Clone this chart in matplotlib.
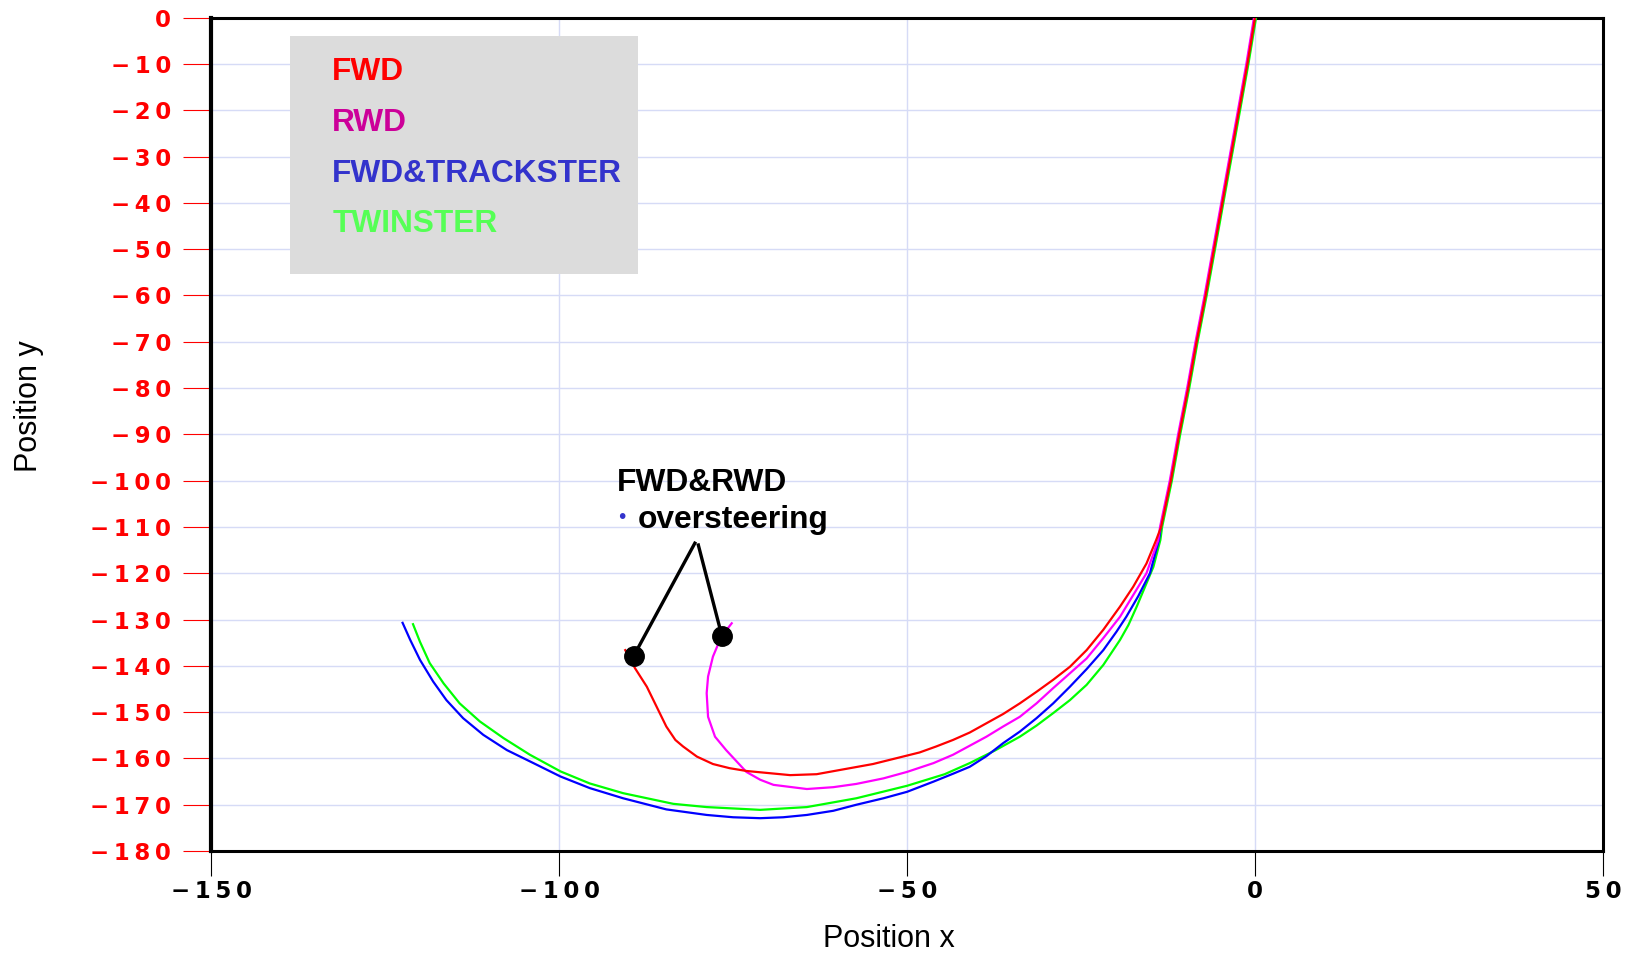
import numpy as np
import matplotlib
matplotlib.use('Agg')
import matplotlib.pyplot as plt
from matplotlib.patches import Rectangle
from matplotlib.ticker import FuncFormatter, MultipleLocator

# common straight part (all four cars)
sx = [0, -1.1, -2.3, -3.5, -4.7, -5.9, -7.1, -8.4, -9.6, -10.9, -12.1, -12.8, -13.5]
sy = [0, -10, -20, -30, -40, -50, -60, -70, -80, -90, -100, -105, -110]

fwd_x = [-14.2, -15.6, -17.5, -19.4, -21.8, -24.2, -26.6, -29.0, -31.4, -33.8, -36.2, -38.6,
         -41.0, -43.4, -45.8, -48.2, -54.9, -59.7, -63.0, -66.8, -73.1, -75.5, -77.9, -80.2,
         -82.2, -83.3, -84.6, -86.0, -87.4, -89.1, -90.5]
fwd_y = [-112.8, -117.9, -122.9, -127.2, -132.2, -136.6, -140.2, -143.0, -145.6, -148.1, -150.4, -152.4,
         -154.4, -156.0, -157.4, -158.7, -161.2, -162.5, -163.4, -163.6, -162.7, -162.1, -161.2, -159.6,
         -157.4, -156.0, -153.1, -148.8, -144.5, -140.5, -136.6]

rwd_x = [-13.9, -15.6, -17.5, -19.4, -21.8, -24.2, -26.6, -29.0, -31.4, -33.8, -36.2, -38.6,
         -43.4, -46.2, -50.0, -53.4, -57.3, -60.6, -64.4, -69.2, -71.1, -73.1, -76.0, -77.6,
         -78.6, -78.8, -78.6, -77.9, -76.7, -75.2]
rwd_y = [-112.8, -120.0, -124.7, -129.4, -134.0, -138.4, -141.6, -144.8, -148.1, -151.0, -153.1, -155.3,
         -159.2, -161.0, -162.9, -164.3, -165.5, -166.2, -166.6, -165.7, -164.6, -162.9, -158.2, -155.3,
         -151.0, -145.9, -142.3, -138.0, -133.7, -130.8]

trk_x = [-13.8, -15.1, -16.8, -18.5, -19.9, -21.8, -24.2, -26.6, -29.0, -31.4, -33.8, -36.2, -38.6,
         -41.0, -43.4, -46.2, -50.0, -53.4, -57.3, -60.6, -64.4, -67.8, -71.1, -75.0, -78.8, -84.6,
         -90.8, -95.6, -99.8, -103.7, -107.5, -110.9, -113.8, -116.2, -118.1, -120.0, -121.4, -122.5]
trk_y = [-112.8, -120.0, -125.0, -129.4, -132.6, -136.6, -140.7, -144.5, -148.1, -151.3, -154.2, -156.7, -159.5,
         -161.8, -163.3, -165.0, -167.2, -168.6, -170.0, -171.3, -172.2, -172.7, -172.9, -172.7, -172.2, -171.0,
         -168.6, -166.4, -163.9, -161.0, -158.2, -154.9, -151.3, -147.4, -143.4, -138.7, -134.4, -130.7]

twin_x = [-13.6, -14.6, -15.8, -17.0, -18.2, -19.4, -21.8, -24.2, -26.6, -29.0, -31.4, -33.8, -37.4,
          -41.0, -44.6, -50.0, -57.3, -64.4, -71.1, -78.8, -83.6, -90.8, -95.6, -99.8, -104.2, -108.0,
          -111.4, -114.3, -116.6, -118.6, -120.0, -121.0]
twin_y = [-112.8, -118.6, -122.9, -127.2, -131.2, -134.4, -139.8, -144.1, -147.4, -150.2, -152.9, -155.3, -158.3,
          -161.0, -163.4, -165.9, -168.6, -170.5, -171.1, -170.5, -169.8, -167.5, -165.4, -162.8, -159.2, -155.6,
          -152.0, -148.1, -143.8, -139.4, -134.8, -131.0]

# annotation: apex of the two pointer lines and the two black dots
apex_x = [-80.5, -80.0]
apex_y = [-113.5, -113.9]
dot_x = [-89.3, -76.6]
dot_y = [-137.9, -133.6]

labels = ['FWD', 'RWD', 'FWD&TRACKSTER', 'TWINSTER']
line_colors = ['#ff0000', '#ff00ff', '#0000ff', '#00ff00']
text_colors = ['#ff0000', '#cc0099', '#3333cc', '#55ff55']


def full(a, b):
    return np.array(sx + a), np.array(sy + b)


def tick_fmt(v, pos):
    s = '%d' % round(v)
    s = s.replace('-', '\u2212')
    return '\u2009'.join(s)


fig = plt.figure(figsize=(16.31, 9.57), dpi=100)
ax = fig.add_axes([0.1295, 0.1107, 0.8533, 0.8708])

series = [(fwd_x, fwd_y), (rwd_x, rwd_y), (trk_x, trk_y), (twin_x, twin_y)]
offs = [0.0, -0.15, -0.05, 0.15]
for i in [3, 2, 1, 0]:
    x, y = full(series[i][0], series[i][1])
    x = x + np.where(y > -111, offs[i], 0.0)
    ax.plot(x, y, color=line_colors[i], lw=1.6, zorder=3 + (3 - i),
            solid_joinstyle='round')

# pointer lines and dots
for i in range(2):
    ax.plot([apex_x[i], dot_x[i]], [apex_y[i], dot_y[i]], color='black', lw=2.4, zorder=8)
ax.plot(dot_x, dot_y, 'o', color='black', ms=14, zorder=9)

ax.set_xlim(-150, 50)
ax.set_ylim(-180, 0)
ax.xaxis.set_major_locator(MultipleLocator(50))
ax.yaxis.set_major_locator(MultipleLocator(10))
ax.xaxis.set_major_formatter(FuncFormatter(tick_fmt))
ax.yaxis.set_major_formatter(FuncFormatter(tick_fmt))
ax.grid(True, color='#d6dbf6', lw=1.0, zorder=0)
ax.set_axisbelow(True)

ax.tick_params(axis='y', direction='out', length=20, width=0.8, color='#ff0000',
               labelcolor='#ff0000', labelsize=16.5, pad=9)
ax.tick_params(axis='x', direction='out', length=18, width=0.8, color='black',
               labelcolor='black', labelsize=16.5, pad=3)
for lab in ax.get_xticklabels() + ax.get_yticklabels():
    lab.set_family('DejaVu Sans')
    lab.set_fontweight('bold')

for side in ['top', 'right', 'bottom']:
    ax.spines[side].set_linewidth(2.2)
ax.spines['left'].set_linewidth(3.0)

ax.set_xlabel('Position x', fontsize=22, family='Liberation Sans')
ax.set_ylabel('Position y', fontsize=22, family='Liberation Sans')
ax.xaxis.set_label_coords(0.487, -0.1055)
ax.yaxis.set_label_coords(-0.131, 0.534)
ax.xaxis.label.set_va('center')
ax.yaxis.label.set_va('center')

# legend box
ax.add_patch(Rectangle((0.0566, 0.693), 0.2498, 0.285, transform=ax.transAxes,
                       facecolor='#dcdcdc', edgecolor='none', zorder=10))
base = [0.9253, 0.8644, 0.8032, 0.7425]
for i in range(4):
    ax.text(0.0869, base[i], labels[i], transform=ax.transAxes, color=text_colors[i],
            fontsize=22.8, fontweight='bold', family='Liberation Sans', va='baseline', zorder=11)

# annotation text
ax.text(0.2913, 0.4324, 'FWD&RWD', transform=ax.transAxes, fontsize=22.9,
        fontweight='bold', family='Liberation Sans', va='baseline', zorder=11)
ax.text(0.2949, 0.4000, '\u2022', transform=ax.transAxes, fontsize=14, color='#3333cc',
        ha='center', va='center', family='DejaVu Sans', zorder=11)
ax.text(0.3068, 0.3877, 'oversteering', transform=ax.transAxes, fontsize=22.9,
        fontweight='bold', family='Liberation Sans', va='baseline', zorder=11)

fig.savefig('out.png', dpi=100)
